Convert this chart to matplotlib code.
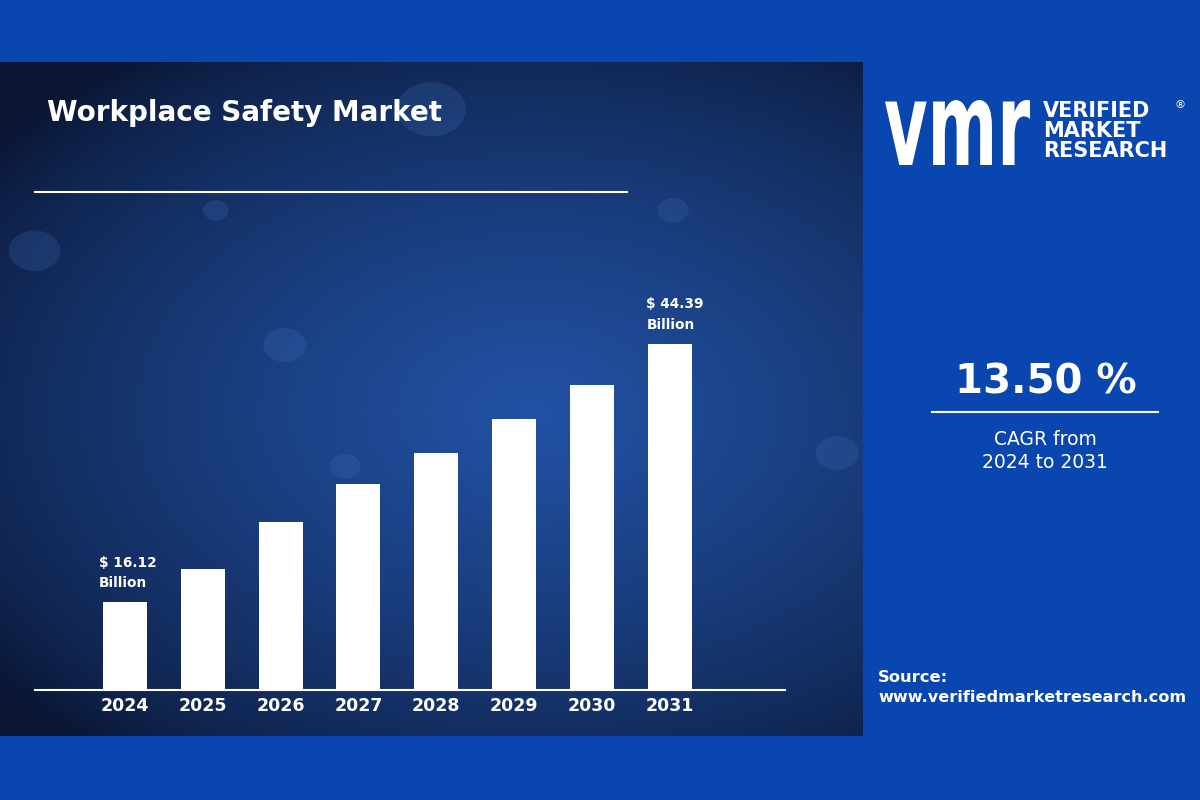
import numpy as np
import matplotlib
matplotlib.use("Agg")
import matplotlib.pyplot as plt
from matplotlib.lines import Line2D
from matplotlib.textpath import TextPath
from matplotlib.patches import PathPatch
from matplotlib.font_manager import FontProperties
from matplotlib.transforms import Affine2D

# DATA
years = ["2024", "2025", "2026", "2027", "2028", "2029", "2030", "2031"]
market_size = [16.12, 19.73, 24.87, 29.07, 32.44, 36.19, 39.85, 44.39]  # USD billion
first_label = "$ 16.12\nBillion"
last_label = "$ 44.39\nBillion"
cagr_text = "13.50 %"
cagr_sub = "CAGR from\n2024 to 2031"

# KLEUREN
outer_blue = "#0a46b0"
navy = np.array([10, 22, 52]) / 255
mid_blue = np.array([34, 82, 165]) / 255
white = "white"
font = "DejaVu Sans"

W, H = 1200, 800
fig = plt.figure(figsize=(12, 8), dpi=100)
fig.patch.set_facecolor(outer_blue)

def fx(px):
    return px / W

def fy(py):
    return 1 - py / H

# donker paneel met gradient
p_left, p_top, p_right, p_bot = 0, 62, 863, 736
ax_bg = fig.add_axes([fx(p_left), fy(p_bot), fx(p_right - p_left), (p_bot - p_top) / H])
gx, gy = np.meshgrid(np.linspace(0, 1, 300), np.linspace(0, 1, 240))
r = np.sqrt(((gx - 0.62) / 0.78) ** 2 + ((gy - 0.52) / 0.65) ** 2)
t = np.clip(1 - r, 0, 1) ** 0.7
img = navy[None, None, :] * (1 - t[..., None]) + mid_blue[None, None, :] * t[..., None]
ax_bg.imshow(img, aspect="auto", extent=[0, 1, 0, 1], origin="upper")
# vage cirkels als achtergrond-decoratie
for cx, cy, rad in [(0.50, 0.93, 0.04), (0.25, 0.78, 0.015), (0.78, 0.78, 0.018),
                    (0.33, 0.58, 0.025), (0.04, 0.72, 0.03), (0.40, 0.40, 0.018),
                    (0.97, 0.42, 0.025), (0.69, 0.47, 0.02)]:
    ax_bg.add_patch(plt.Circle((cx, cy), rad, color="#4a78c8", alpha=0.2, lw=0,
                               transform=ax_bg.transAxes))
ax_bg.set_xlim(0, 1)
ax_bg.set_ylim(0, 1)
ax_bg.axis("off")

# titel + lijn
fig.text(fx(47), fy(113), "Workplace Safety Market", color=white, fontsize=20,
         fontweight="bold", family=font, ha="left", va="center")
fig.add_artist(Line2D([fx(35), fx(627)], [fy(192), fy(192)], color=white, lw=1.5))

# STAAFDIAGRAM
base_px, top_px = 689.7, 300
ax = fig.add_axes([fx(35), fy(base_px), fx(785 - 35), (base_px - top_px) / H])
ax.patch.set_alpha(0)
x = np.arange(len(years))
ax.bar(x, market_size, width=0.566, color=white, bottom=0)
ax.set_xlim(-1.155, 8.48)
ymin = 6.55
ax.set_ylim(ymin, ymin + (base_px - top_px) / 9.14)
for s in ["top", "right", "left"]:
    ax.spines[s].set_visible(False)
ax.spines["bottom"].set_color(white)
ax.spines["bottom"].set_linewidth(1.5)
ax.set_yticks([])
ax.set_xticks(x)
ax.set_xticklabels(years, color=white, fontsize=12.5, fontweight="bold", family=font)
ax.tick_params(axis="x", length=0, pad=5)

ax.text(x[0] - 0.33, market_size[0] + 1.3, first_label, color=white, fontsize=9.8,
        fontweight="bold", family=font, ha="left", va="bottom", linespacing=1.6)
ax.text(x[-1] - 0.3, market_size[-1] + 1.3, last_label, color=white, fontsize=9.8,
        fontweight="bold", family=font, ha="left", va="bottom", linespacing=1.6)

# RECHTER PANEEL: logo
tp = TextPath((0, 0), "vmr", size=1, prop=FontProperties(family=font, weight="bold"))
ext = tp.get_extents()
lx0, lx1, ly_top, ly_bot = 885, 1030, 100, 165
sx = (lx1 - lx0) / ext.width
sy = (ly_bot - ly_top) / ext.height
tr = Affine2D().translate(-ext.x0, -ext.y0).scale(sx, sy).translate(lx0, H - ly_bot)
fig.add_artist(PathPatch(tr.transform_path(tp), color=white, lw=0, transform=None))

fig.text(fx(1043), fy(131), "VERIFIED\nMARKET\nRESEARCH", color=white, fontsize=15,
         fontweight="bold", family=font, ha="left", va="center", linespacing=0.98)
fig.text(fx(1180), fy(105), "®", color=white, fontsize=8, family=font, ha="center", va="center")

fig.text(fx(1046), fy(383), cagr_text, color=white, fontsize=29, fontweight="bold",
         family=font, ha="center", va="center")
fig.add_artist(Line2D([fx(932), fx(1158)], [fy(412), fy(412)], color=white, lw=1.5))
fig.text(fx(1045), fy(451), cagr_sub, color=white, fontsize=13.5, family=font,
         ha="center", va="center", linespacing=1.3)

fig.text(fx(878), fy(677), "Source:", color=white, fontsize=11.8, fontweight="bold",
         family=font, ha="left", va="center")
fig.text(fx(878), fy(698), "www.verifiedmarketresearch.com", color=white, fontsize=11.6,
         fontweight="bold", family=font, ha="left", va="center")

plt.savefig("out.png", dpi=100, facecolor=fig.get_facecolor())
